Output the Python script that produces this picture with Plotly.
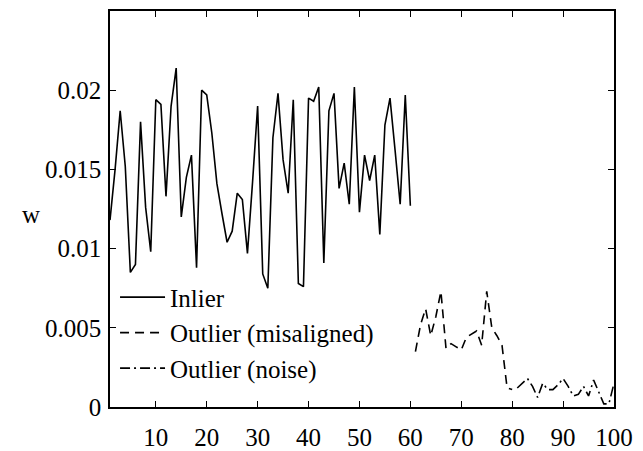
import plotly.graph_objects as go

# Data
x_inlier = list(range(1, 61))
w_inlier = [
    0.0118, 0.0150, 0.0187, 0.0152, 0.0085, 0.0090, 0.0180, 0.0126, 0.0098, 0.0194,
    0.0191, 0.0133, 0.0190, 0.0214, 0.0120, 0.0145, 0.0159, 0.0088, 0.0200, 0.0197,
    0.0173, 0.0141, 0.0122, 0.0104, 0.0111, 0.0135, 0.0131, 0.0097, 0.0142, 0.0190,
    0.0084, 0.0075, 0.0170, 0.0198, 0.0156, 0.0135, 0.0194, 0.0078, 0.0076, 0.0195,
    0.0193, 0.0202, 0.0091, 0.0187, 0.0198, 0.0138, 0.0154, 0.0128, 0.0202, 0.0123,
    0.0159, 0.0143, 0.0159, 0.0109, 0.0178, 0.0195, 0.0162, 0.0128, 0.0197, 0.0127,
]

x_misaligned = list(range(61, 81))
w_misaligned = [
    0.0035, 0.0052, 0.0062, 0.0045, 0.0057, 0.0073, 0.0037, 0.0040, 0.0038, 0.0036,
    0.0044, 0.0046, 0.0048, 0.0039, 0.0073, 0.0050, 0.0045, 0.0039, 0.0012, 0.0011,
]

x_noise = list(range(81, 101))
w_noise = [
    0.0012, 0.0015, 0.0018, 0.0013, 0.0006, 0.0015, 0.0011, 0.0011, 0.0014, 0.0018,
    0.0013, 0.0007, 0.0008, 0.0013, 0.0007, 0.0017, 0.0010, 0.0002, 0.0002, 0.0015,
]

x_ticks = [10, 20, 30, 40, 50, 60, 70, 80, 90, 100]
y_ticks = [0, 0.005, 0.01, 0.015, 0.02]
y_labels = ["0", "0.005", "0.01", "0.015", "0.02"]

font = "Liberation Serif, Times New Roman, serif"

fig = go.Figure()
fig.add_trace(go.Scatter(x=x_inlier, y=w_inlier, mode="lines", name="Inlier",
                         line=dict(color="black", width=1.6)))
fig.add_trace(go.Scatter(x=x_misaligned, y=w_misaligned, mode="lines",
                         name="Outlier (misaligned)",
                         line=dict(color="black", width=1.6, dash="9px,6px")))
fig.add_trace(go.Scatter(x=x_noise, y=w_noise, mode="lines", name="Outlier (noise)",
                         line=dict(color="black", width=1.6, dash="10px,4px,2px,4px")))

axis_style = dict(showgrid=False, zeroline=False, showline=True, linecolor="black",
                  linewidth=1.5, mirror="ticks", ticks="inside", ticklen=6,
                  tickcolor="black", tickwidth=1, automargin=False)

fig.update_layout(
    width=643, height=451,
    margin=dict(l=110, r=29, t=11, b=44),
    paper_bgcolor="white", plot_bgcolor="white",
    font=dict(family=font, size=25, color="black"),
    showlegend=True,
    legend=dict(x=0.01, y=0.335, xanchor="left", yanchor="top",
                bgcolor="rgba(255,255,255,0)", itemwidth=45,
                font=dict(size=25), tracegroupgap=0),
    xaxis=dict(range=[1, 100], tickvals=x_ticks, ticklabelstandoff=7, **axis_style),
    yaxis=dict(range=[0, 0.025], tickvals=y_ticks, ticktext=y_labels,
               ticklabelstandoff=2, **axis_style),
)

# y label is upright in the reference, so place it as an annotation
fig.add_annotation(text="w", xref="paper", yref="paper", x=-0.179, y=0.485,
                   showarrow=False, font=dict(size=25))

# remove the default page margin so the figure sits at the window corner
fig.write_html("out.html", config={"displayModeBar": False},
               post_script="document.body.style.margin='0';")
